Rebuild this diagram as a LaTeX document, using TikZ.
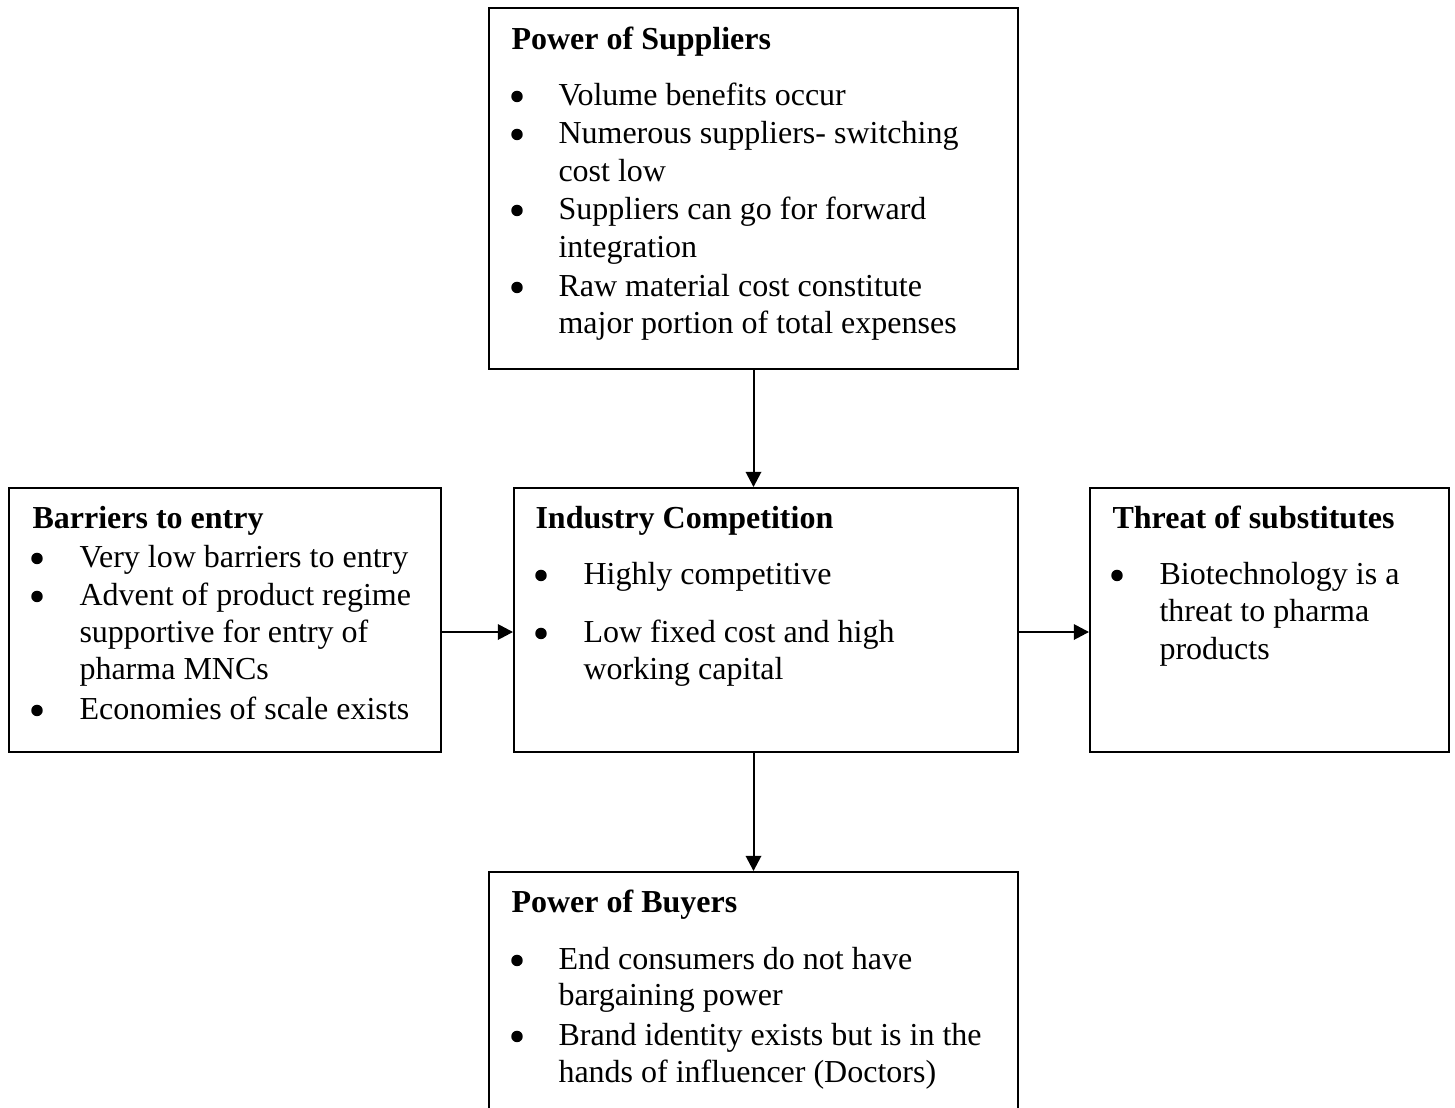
\documentclass[tikz,border=0pt]{standalone}
\usepackage{fontspec}
\setmainfont{Liberation Serif}
\usetikzlibrary{fit,arrows.meta}
\begin{document}
\begin{tikzpicture}[x=0.375pt,y=-0.375pt,
  box/.style={draw,line width=0.75pt,inner sep=0pt,rectangle},
  arr/.style={line width=0.75pt,-{Triangle[length=5.7pt,width=5.8pt]}},
  ttl/.style={anchor=base west,inner sep=0pt,font=\fontsize{12}{14}\selectfont\bfseries},
  txt/.style={anchor=base west,inner sep=0pt,font=\fontsize{12}{14}\selectfont},
  bul/.style={circle,fill,inner sep=0pt,minimum size=4.3pt,yshift=3.2pt}]
\useasboundingbox (0,0) rectangle (1455,1108);
\fill[white] (0,0) rectangle (1455,1108);
% boxes
\node[box,fit={(489,8) (1018,369)}] (sup) {};
\node[box,fit={(9,488) (441,752)}] (bar) {};
\node[box,fit={(514,488) (1018,752)}] (ind) {};
\node[box,fit={(1090,488) (1449,752)}] (thr) {};
\node[box,fit={(489,872) (1018,1140)}] (buy) {};
% arrows
\draw[arr] (sup.south) -- (sup.south |- ind.north);
\draw[arr] (sup.south |- ind.south) -- (sup.south |- buy.north);
\draw[arr] (bar.east |- 0,632) -- (ind.west |- 0,632);
\draw[arr] (ind.east |- 0,632) -- (thr.west |- 0,632);
% Power of Suppliers
\node[ttl] (supT) at (511,49) {Power of Suppliers};
\node[bul] (supB1) at (517,105) {};
\node[txt] (supL1) at (558,105) {Volume benefits occur};
\node[bul] (supB2) at (517,143) {};
\node[txt] (supL2) at (558,143) {Numerous suppliers- switching};
\node[txt] (supL3) at (558,181) {cost low};
\node[bul] (supB3) at (517,219) {};
\node[txt] (supL4) at (558,219) {Suppliers can go for forward};
\node[txt] (supL5) at (558,257) {integration};
\node[bul] (supB4) at (517,296) {};
\node[txt] (supL6) at (558,296) {Raw material cost constitute};
\node[txt] (supL7) at (558,333) {major portion of total expenses};
% Barriers to entry
\node[ttl] (barT) at (32,528) {Barriers to entry};
\node[bul] (barB1) at (37,567) {};
\node[txt] (barL1) at (79,567) {Very low barriers to entry};
\node[bul] (barB2) at (37,605) {};
\node[txt] (barL2) at (79,605) {Advent of product regime};
\node[txt] (barL3) at (79,642) {supportive for entry of};
\node[txt] (barL4) at (79,679) {pharma MNCs};
\node[bul] (barB3) at (37,719) {};
\node[txt] (barL5) at (79,719) {Economies of scale exists};
% Industry Competition
\node[ttl] (indT) at (535,528) {Industry Competition};
\node[bul] (indB1) at (541,584) {};
\node[txt] (indL1) at (583,584) {Highly competitive};
\node[bul] (indB2) at (541,642) {};
\node[txt] (indL2) at (583,642) {Low fixed cost and high};
\node[txt] (indL3) at (583,679) {working capital};
% Threat of substitutes
\node[ttl] (thrT) at (1112,528) {Threat of substitutes};
\node[bul] (thrB1) at (1117,584) {};
\node[txt] (thrL1) at (1159,584) {Biotechnology is a};
\node[txt] (thrL2) at (1159,621) {threat to pharma};
\node[txt] (thrL3) at (1159,659) {products};
% Power of Buyers
\node[ttl] (buyT) at (511,912) {Power of Buyers};
\node[bul] (buyB1) at (517,969) {};
\node[txt] (buyL1) at (558,969) {End consumers do not have};
\node[txt] (buyL2) at (558,1005) {bargaining power};
\node[bul] (buyB2) at (517,1045) {};
\node[txt] (buyL3) at (558,1045) {Brand identity exists but is in the};
\node[txt] (buyL4) at (558,1082) {hands of influencer (Doctors)};
\end{tikzpicture}
\end{document}
